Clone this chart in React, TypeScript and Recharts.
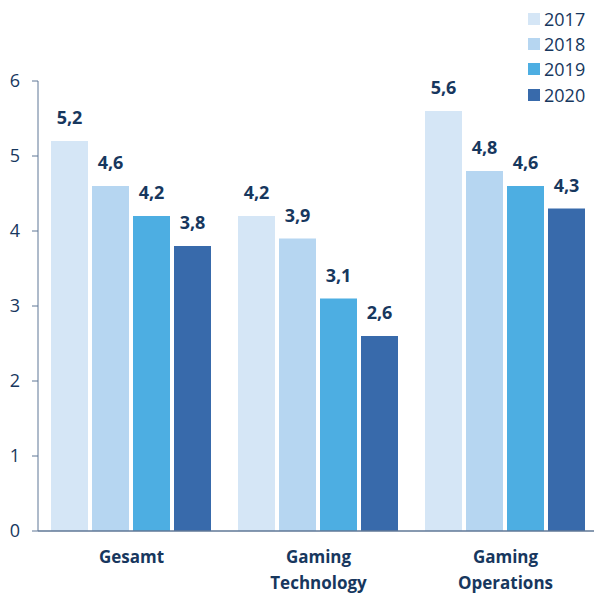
import { BarChart, Bar, XAxis, YAxis, LabelList } from "recharts"

const categories = ["Gesamt", "Gaming Technology", "Gaming Operations"]
const years = ["2017", "2018", "2019", "2020"]
const values2017 = [5.2, 4.2, 5.6]
const values2018 = [4.6, 3.9, 4.8]
const values2019 = [4.2, 3.1, 4.6]
const values2020 = [3.8, 2.6, 4.3]
const yTicks = [0, 1, 2, 3, 4, 5, 6]

const colors = ["#d5e6f6", "#b6d6f1", "#4daee2", "#386aab"]
const navy = "#17375e"
const axisColor = "#5f7796"
const font = "'Open Sans', sans-serif"

const seriesValues = [values2017, values2018, values2019, values2020]
const data = categories.map((name, i) => {
  const row: Record<string, string | number> = { name }
  years.forEach((y, j) => (row[y] = seriesValues[j][i]))
  return row
})

const fmt = (v: any) => String(v).replace(".", ",")

function CatTick(props: any) {
  const { x, y, payload } = props
  const words = String(payload.value).split(" ")
  return (
    <text x={x} y={y} textAnchor="middle" fill={navy} fontFamily={font} fontSize={17} fontWeight={700}>
      {words.map((w, i) => (
        <tspan key={i} x={x} dy={i === 0 ? 24 : 26}>
          {w}
        </tspan>
      ))}
    </text>
  )
}

export default function App() {
  return (
    <div style={{ position: "fixed", left: 0, top: 0, width: 594, height: 597, overflow: "hidden", background: "#fff" }}>
      <BarChart
        width={599}
        height={597}
        data={data}
        margin={{ top: 81, right: 0, bottom: 0, left: 0 }}
        barCategoryGap={13}
        barGap={4}
      >
        <YAxis
          domain={[0, 6]}
          ticks={yTicks}
          width={38}
          tickSize={6}
          tickMargin={12}
          stroke={axisColor}
          tick={{ fill: navy, fontSize: 18, fontFamily: font }}
        />
        <XAxis
          dataKey="name"
          height={66}
          tickLine={false}
          stroke={axisColor}
          strokeWidth={1.5}
          interval={0}
          tick={<CatTick />}
        />
        {years.map((y, i) => (
          <Bar key={y} dataKey={y} fill={colors[i]} isAnimationActive={false}>
            <LabelList
              dataKey={y}
              position="top"
              offset={17}
              formatter={fmt}
              fill={navy}
              fontSize={18}
              fontWeight={700}
              fontFamily={font}
            />
          </Bar>
        ))}
      </BarChart>
      <div style={{ position: "absolute", left: 528, top: 6, fontFamily: font, fontSize: 18, color: navy }}>
        {years.map((y, i) => (
          <div key={y} style={{ display: "flex", alignItems: "center", height: 25.3 }}>
            <span style={{ display: "inline-block", width: 12, height: 12, background: colors[i], marginRight: 4 }} />
            <span>{y}</span>
          </div>
        ))}
      </div>
    </div>
  )
}
